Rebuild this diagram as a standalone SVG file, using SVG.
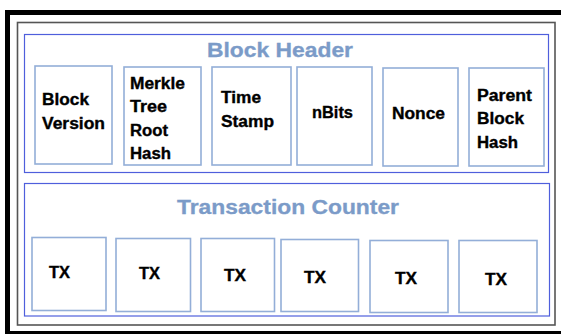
<svg xmlns="http://www.w3.org/2000/svg" width="561" height="334" viewBox="0 0 561 334">
<style>
.frame{fill:none;stroke:#000;stroke-width:5}
.inner{fill:none;stroke:#555;stroke-width:1.6}
.cont{fill:#fff;stroke:#4f5fdc;stroke-width:1.2}
.box{fill:#fff;stroke:#93aed8;stroke-width:1.6}
.title{font-family:"Liberation Sans",Arial,sans-serif;font-weight:bold;fill:#7b9bc8;stroke:#7b9bc8;stroke-width:0.3}
.lbl{font-family:"Liberation Sans",Arial,sans-serif;font-weight:bold;font-size:15.8px;fill:#000;stroke:#000;stroke-width:0.35}
</style>
<rect width="561" height="334" fill="#fff"/>
<rect class="frame" x="7.5" y="12.5" width="600" height="321"/>
<rect class="inner" x="17.5" y="22.5" width="537.5" height="302.5"/>
<g id="block-header">
<rect class="cont" x="24.5" y="34.5" width="524" height="138"/>
<text class="title" x="207" y="57" font-size="19.5" textLength="146" lengthAdjust="spacingAndGlyphs">Block Header</text>
</g>
<g id="block-version">
<rect class="box" x="35" y="66" width="77" height="98"/>
<text class="lbl" x="42" y="105" textLength="47" lengthAdjust="spacingAndGlyphs">Block</text>
<text class="lbl" x="42" y="129" textLength="63" lengthAdjust="spacingAndGlyphs">Version</text>
</g>
<g id="merkle-root">
<rect class="box" x="124" y="67" width="77" height="98"/>
<text class="lbl" x="130" y="89" textLength="55" lengthAdjust="spacingAndGlyphs">Merkle</text>
<text class="lbl" x="130" y="112" textLength="37" lengthAdjust="spacingAndGlyphs">Tree</text>
<text class="lbl" x="130" y="136" textLength="38" lengthAdjust="spacingAndGlyphs">Root</text>
<text class="lbl" x="130" y="159" textLength="41" lengthAdjust="spacingAndGlyphs">Hash</text>
</g>
<g id="time-stamp">
<rect class="box" x="212" y="67" width="79" height="98"/>
<text class="lbl" x="221" y="103" textLength="40" lengthAdjust="spacingAndGlyphs">Time</text>
<text class="lbl" x="221" y="127" textLength="53" lengthAdjust="spacingAndGlyphs">Stamp</text>
</g>
<g id="nbits">
<rect class="box" x="297" y="67" width="75" height="98"/>
<text class="lbl" x="312" y="118" textLength="41" lengthAdjust="spacingAndGlyphs">nBits</text>
</g>
<g id="nonce">
<rect class="box" x="383" y="68" width="75" height="98"/>
<text class="lbl" x="392" y="119" textLength="53" lengthAdjust="spacingAndGlyphs">Nonce</text>
</g>
<g id="parent-hash">
<rect class="box" x="469" y="68" width="75" height="98"/>
<text class="lbl" x="477" y="101" textLength="55" lengthAdjust="spacingAndGlyphs">Parent</text>
<text class="lbl" x="477" y="124" textLength="47" lengthAdjust="spacingAndGlyphs">Block</text>
<text class="lbl" x="477" y="148" textLength="41" lengthAdjust="spacingAndGlyphs">Hash</text>
</g>
<g id="transaction-counter">
<rect class="cont" x="24.5" y="183.5" width="525" height="132.5"/>
<text class="title" x="177" y="214" font-size="20" textLength="222" lengthAdjust="spacingAndGlyphs">Transaction Counter</text>
</g>
<g id="tx1">
<rect class="box" x="32" y="237.5" width="74" height="73"/>
<text class="lbl" x="49" y="278" textLength="21" lengthAdjust="spacingAndGlyphs">TX</text>
</g>
<g id="tx2">
<rect class="box" x="116" y="238.5" width="74.5" height="73"/>
<text class="lbl" x="139" y="279" textLength="21" lengthAdjust="spacingAndGlyphs">TX</text>
</g>
<g id="tx3">
<rect class="box" x="201" y="238.5" width="73.5" height="73"/>
<text class="lbl" x="224" y="281" textLength="22" lengthAdjust="spacingAndGlyphs">TX</text>
</g>
<g id="tx4">
<rect class="box" x="281" y="239.5" width="77.5" height="72"/>
<text class="lbl" x="304" y="283" textLength="22" lengthAdjust="spacingAndGlyphs">TX</text>
</g>
<g id="tx5">
<rect class="box" x="370" y="240.5" width="78" height="72"/>
<text class="lbl" x="395" y="284" textLength="22" lengthAdjust="spacingAndGlyphs">TX</text>
</g>
<g id="tx6">
<rect class="box" x="459" y="240.5" width="78" height="72"/>
<text class="lbl" x="485" y="285" textLength="22" lengthAdjust="spacingAndGlyphs">TX</text>
</g>
<g id="connectors"/>
</svg>
